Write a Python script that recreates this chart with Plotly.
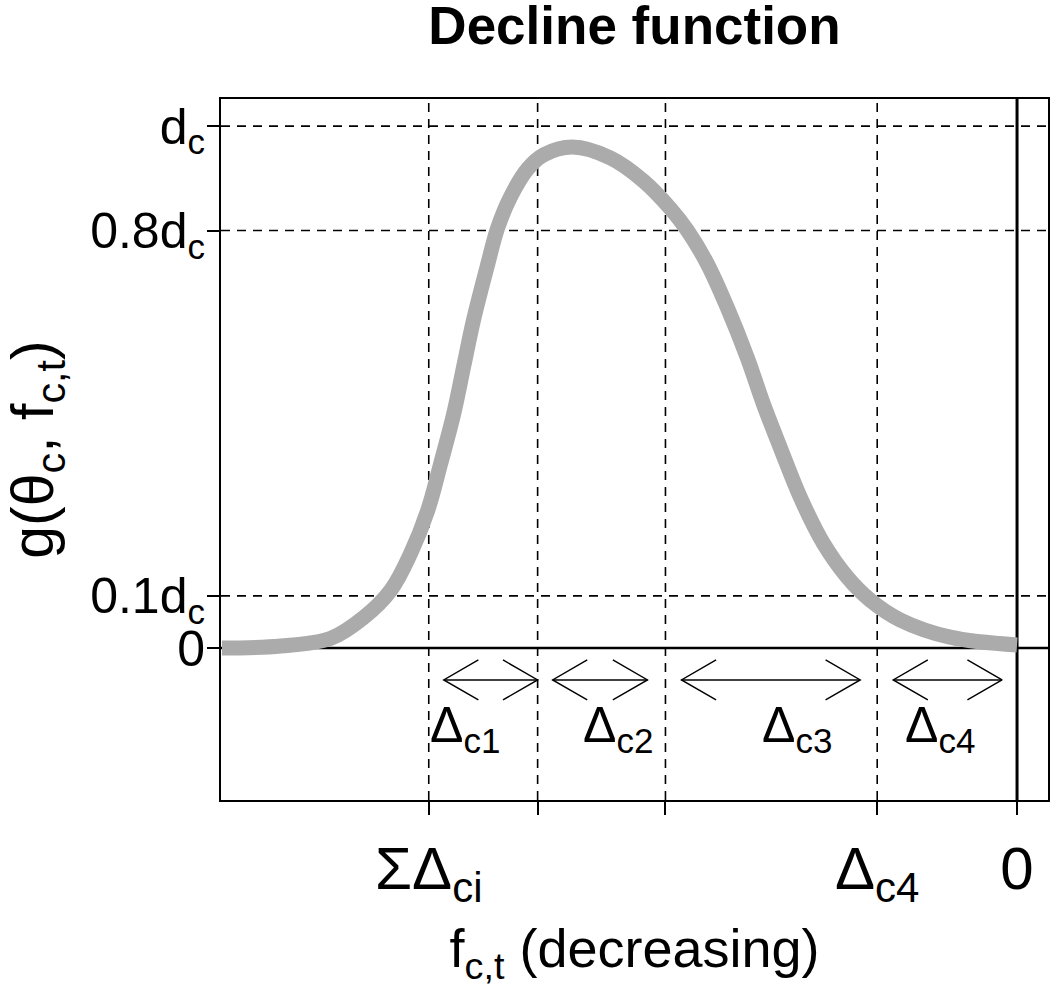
import math
import plotly.graph_objects as go

# ---------------- data ----------------
# x: f_{c,t} position (0 at right, increasing to the left); y: g in units of d_c
curve_x = [7.96, 7.37, 6.87, 6.54, 6.27, 6.07, 5.90, 5.77, 5.64, 5.54, 5.44, 5.30, 5.20,
           5.07, 4.90, 4.74, 4.45, 4.07, 3.74, 3.47, 3.30, 3.10, 2.90, 2.70, 2.54, 2.37,
           2.17, 1.94, 1.70, 1.47, 1.17, 0.67, 0.00]
curve_y = [0.000, 0.004, 0.019, 0.059, 0.111, 0.182, 0.264, 0.354, 0.449, 0.540, 0.630,
           0.735, 0.805, 0.865, 0.918, 0.945, 0.960, 0.939, 0.895, 0.842, 0.800, 0.736,
           0.652, 0.556, 0.468, 0.384, 0.289, 0.201, 0.136, 0.092, 0.054, 0.021, 0.006]

boundaries = [5.89, 4.80, 3.52, 1.40]          # vertical dashed lines
x_tick_vals = [5.89, 4.80, 3.52, 1.40, 0.0]
x_tick_text = ["ΣΔ<sub>ci</sub>", "", "", "Δ<sub>c4</sub>", "0"]
y_levels = [1.0, 0.8, 0.1]                       # horizontal dashed lines
y_tick_vals = [0.0, 0.1, 0.8, 1.0]
y_tick_text = ["0", "0.1d<sub>c</sub>", "0.8d<sub>c</sub>", "d<sub>c</sub>"]

arrow_start = [5.74, 4.65, 3.36, 1.24]
arrow_end = [4.80, 3.70, 1.57, 0.15]
arrow_level = -0.061
delta_labels = ["Δ<sub>c1</sub>", "Δ<sub>c2</sub>", "Δ<sub>c3</sub>", "Δ<sub>c4</sub>"]
delta_label_x = [5.53, 4.00, 2.20, 0.77]
delta_label_y = -0.154

x_range = [7.97, -0.31]
y_range = [-0.291, 1.052]

# ---------------- layout geometry ----------------
W, H = 1050, 990
ML, MR, MT, MB = 221, 2, 99, 190
plot_w = W - ML - MR
plot_h = H - MT - MB
xscale = plot_w / abs(x_range[0] - x_range[1])   # px per data unit
yscale = plot_h / abs(y_range[1] - y_range[0])

FONT = "Liberation Sans, Arial, sans-serif"
fig = go.Figure()

# curve
fig.add_trace(go.Scatter(x=curve_x, y=curve_y, mode="lines",
                         line=dict(color="#ababab", width=15, shape="spline", smoothing=1.0),
                         hoverinfo="skip", showlegend=False))

# double-headed open arrows
head_len, head_ang = 40, math.radians(30)
hx = head_len * math.cos(head_ang) / xscale
hy = head_len * math.sin(head_ang) / yscale
ax, ay = [], []
for s, e in zip(arrow_start, arrow_end):
    ax += [s, e, None]
    ay += [arrow_level, arrow_level, None]
    ax += [s - hx, s, s - hx, None]
    ay += [arrow_level + hy, arrow_level, arrow_level - hy, None]
    ax += [e + hx, e, e + hx, None]
    ay += [arrow_level + hy, arrow_level, arrow_level - hy, None]
fig.add_trace(go.Scatter(x=ax, y=ay, mode="lines", line=dict(color="black", width=1.4),
                         hoverinfo="skip", showlegend=False))

shapes = []
dash = "9px,7px"
for b in boundaries:
    shapes.append(dict(type="line", xref="x", yref="paper", x0=b, x1=b, y0=0, y1=1,
                       line=dict(color="black", width=1.6, dash=dash), layer="below"))
for lv in y_levels:
    shapes.append(dict(type="line", xref="paper", yref="y", x0=0, x1=1, y0=lv, y1=lv,
                       line=dict(color="black", width=1.6, dash=dash), layer="below"))
shapes.append(dict(type="line", xref="paper", yref="y", x0=0, x1=1, y0=0, y1=0,
                   line=dict(color="black", width=2.5), layer="below"))
shapes.append(dict(type="line", xref="x", yref="paper", x0=0, x1=0, y0=0, y1=1,
                   line=dict(color="black", width=3), layer="below"))

annotations = []
for lab, lx in zip(delta_labels, delta_label_x):
    annotations.append(dict(x=lx, y=delta_label_y, xref="x", yref="y", text=lab,
                            showarrow=False, font=dict(size=50, color="black", family=FONT)))

fig.update_layout(
    width=W, height=H,
    margin=dict(l=ML, r=MR, t=MT, b=MB, pad=0, autoexpand=False),
    paper_bgcolor="white", plot_bgcolor="white",
    title=dict(text="<b>Decline function</b>", x=(ML + plot_w / 2) / W, xanchor="center",
               y=1 - 25 / H, yanchor="middle", yref="container",
               font=dict(size=53, color="black", family=FONT)),
    xaxis=dict(range=x_range, tickmode="array", tickvals=x_tick_vals, ticktext=x_tick_text,
               ticks="outside", ticklen=13, tickwidth=1.5, tickcolor="black",
               showgrid=False, zeroline=False, showline=True, linecolor="black", linewidth=2,
               mirror=True, tickfont=dict(size=60, color="black", family=FONT),
               ticklabelstandoff=2, automargin=False,
               title=dict(text="f<sub>c,t</sub> (decreasing)", standoff=20,
                          font=dict(size=54, color="black", family=FONT))),
    yaxis=dict(range=y_range, tickmode="array", tickvals=y_tick_vals, ticktext=y_tick_text,
               ticks="outside", ticklen=12, tickwidth=1.5, tickcolor="black",
               showgrid=False, zeroline=False, showline=True, linecolor="black", linewidth=2,
               mirror=True, tickfont=dict(size=50, color="black", family=FONT),
               ticklabelstandoff=-8, automargin=False,
               title=dict(text="g(θ<sub>c</sub>, f<sub>c,t</sub>)", standoff=24,
                          font=dict(size=59, color="black", family=FONT))),
    shapes=shapes, annotations=annotations,
)

fig.write_html("out.html", config={"displayModeBar": False},
               post_script="document.body.style.margin='0px';")
